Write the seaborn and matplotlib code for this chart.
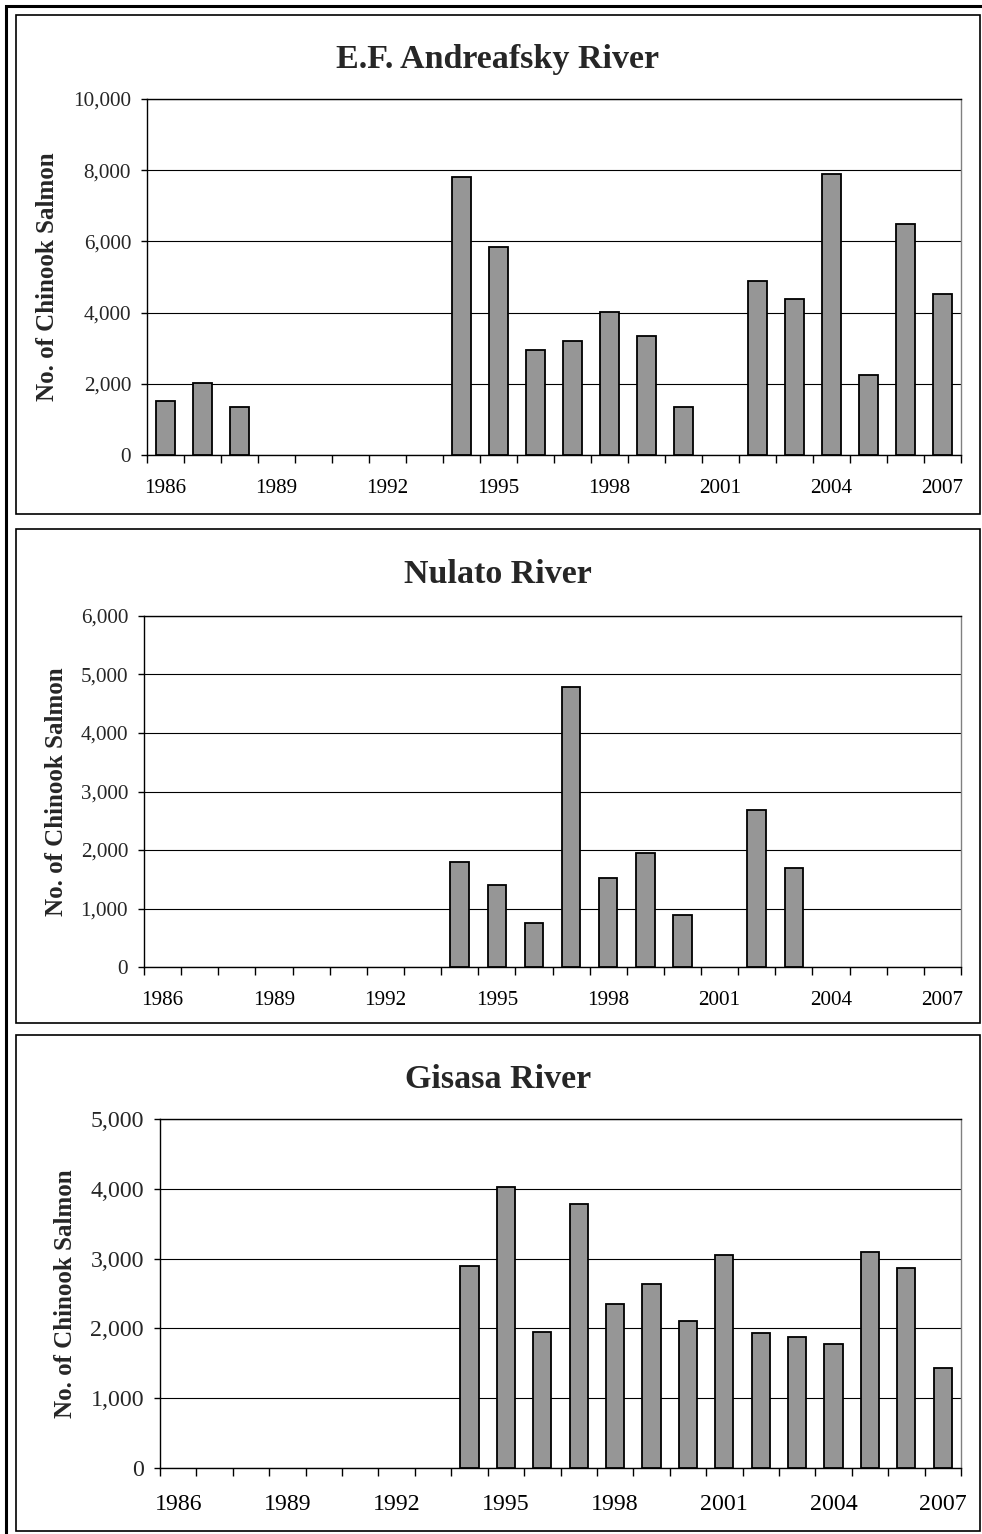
import numpy as np
import pandas as pd
import matplotlib
matplotlib.use("Agg")
import matplotlib.pyplot as plt
from matplotlib.patches import Rectangle
from matplotlib.ticker import FuncFormatter, MultipleLocator
import seaborn as sns

# ---- data -------------------------------------------------------------
years = list(range(1986, 2008))
year_labels = [str(y) for y in years]
nan = np.nan

andreafsky = [1520, 2010, 1340, nan, nan, nan, nan, nan, 7800, 5840, 2950,
              3190, 4030, 3340, 1340, nan, 4900, 4370, 7900, 2260, 6480, 4520]
nulato = [nan, nan, nan, nan, nan, nan, nan, nan, 1800, 1400, 750,
          4780, 1520, 1950, 890, nan, 2690, 1700, nan, nan, nan, nan]
gisasa = [nan, nan, nan, nan, nan, nan, nan, nan, 2900, 4030, 1950,
          3780, 2350, 2630, 2100, 3050, 1930, 1880, 1780, 3100, 2860, 1430]

titles = ["E.F. Andreafsky River", "Nulato River", "Gisasa River"]
y_max = [10000, 6000, 5000]
y_step = [2000, 1000, 1000]
y_label = "No. of Chinook Salmon"

# ---- styling ----------------------------------------------------------
sns.set_style("white")
plt.rcParams["font.family"] = ["Liberation Serif", "DejaVu Serif"]

W, H = 982, 1534
DPI = 100
fig = plt.figure(figsize=(W / DPI, H / DPI), dpi=DPI)
fig.patch.set_facecolor("white")

def fx(px):
    return px / W

def fy(py):
    return 1 - py / H

# axes boxes in pixels: left, top, right, bottom
axes_px = [(147, 99, 961, 455), (144, 616, 961, 967), (160, 1119, 961, 1468)]
panels_px = [(16, 15, 980, 514), (16, 529, 980, 1023), (16, 1035, 980, 1531)]
title_base = [68, 583, 1088]
ylab_x = [48, 57, 65]
tick_fs = [15.2, 15.2, 17.2]
xpad = [17.5, 17.5, 19]

# outer frame
fig.patches.append(Rectangle((fx(6), fy(1545)), fx(1000) - fx(6), fy(6) - fy(1545),
                             transform=fig.transFigure, fill=False,
                             edgecolor="black", linewidth=2.2, zorder=0))

for i, series in enumerate([andreafsky, nulato, gisasa]):
    l, t, r, b = panels_px[i]
    fig.patches.append(Rectangle((fx(l), fy(b)), fx(r) - fx(l), fy(t) - fy(b),
                                 transform=fig.transFigure, fill=False,
                                 edgecolor="black", linewidth=1.2, zorder=0))

    al, at, ar, ab = axes_px[i]
    ax = fig.add_axes([fx(al), fy(ab), fx(ar) - fx(al), fy(at) - fy(ab)])

    df = pd.DataFrame({"year": year_labels, "count": series}).dropna()
    sns.barplot(data=df, x="year", y="count", order=year_labels, ax=ax,
                color="#969696", saturation=1, width=0.5,
                edgecolor="black", linewidth=1.3, errorbar=None, zorder=3)

    ax.set_xlim(-0.5, len(years) - 0.5)
    ax.set_ylim(0, y_max[i])
    ax.yaxis.set_major_locator(MultipleLocator(y_step[i]))
    ax.yaxis.set_major_formatter(FuncFormatter(lambda v, p: f"{v:,.0f}"))
    ax.yaxis.grid(True, color="black", linewidth=0.8)
    ax.xaxis.grid(False)
    ax.set_axisbelow(True)

    label_pos = list(range(0, len(years), 3))
    ax.set_xticks(label_pos, [year_labels[k] for k in label_pos])
    ax.set_xticks(np.arange(-0.5, len(years), 1), minor=True)
    ax.tick_params(axis="x", which="major", length=0, pad=xpad[i],
                   labelsize=tick_fs[i], colors="black")
    ax.tick_params(axis="x", which="minor", length=6, width=1,
                   direction="out", color="black", bottom=True)
    ax.tick_params(axis="y", which="major", length=4.5, width=1,
                   direction="out", pad=7, labelsize=tick_fs[i],
                   color="black", left=True)

    for side in ["left", "bottom", "top"]:
        ax.spines[side].set_color("black")
        ax.spines[side].set_linewidth(1.0)
    ax.spines["right"].set_color("#808080")
    ax.spines["right"].set_linewidth(1.0)

    ax.set_xlabel("")
    ax.set_ylabel(y_label, fontsize=18, fontweight="bold", va="center")
    ax.yaxis.set_label_coords((ylab_x[i] - al) / (ar - al), 0.5)

    fig.text(fx((l + r) / 2), fy(title_base[i]), titles[i], ha="center",
             va="baseline", fontsize=24.5, fontweight="bold")

fig.savefig("out.png", dpi=DPI, facecolor="white")
